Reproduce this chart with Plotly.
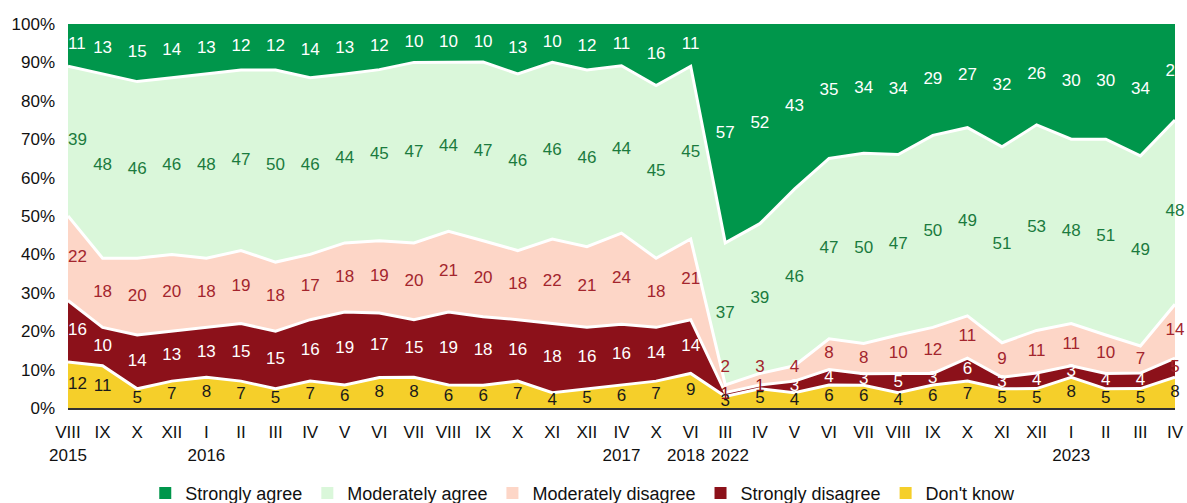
import plotly.graph_objects as go

months = ["VIII", "IX", "X", "XII", "I", "II", "III", "IV", "V", "VI", "VII", "VIII", "IX", "X",
          "XI", "XII", "IV", "X", "VI", "III", "IV", "V", "VI", "VII", "VIII", "IX", "X", "XI",
          "XII", "I", "II", "III", "IV"]
years = ["2015", "", "", "", "2016", "", "", "", "", "", "", "", "", "", "", "", "2017", "", "2018",
         "2022", "", "", "", "", "", "", "", "", "", "2023", "", "", ""]

dont_know = [12, 11, 5, 7, 8, 7, 5, 7, 6, 8, 8, 6, 6, 7, 4, 5, 6, 7, 9, 3, 5, 4, 6, 6, 4, 6, 7, 5, 5, 8, 5, 5, 8]
strongly_disagree = [16, 10, 14, 13, 13, 15, 15, 16, 19, 17, 15, 19, 18, 16, 18, 16, 16, 14, 14, 1, 1, 3, 4, 3, 5, 3, 6, 3, 4, 3, 4, 4, 5]
moderately_disagree = [22, 18, 20, 20, 18, 19, 18, 17, 18, 19, 20, 21, 20, 18, 22, 21, 24, 18, 21, 2, 3, 4, 8, 8, 10, 12, 11, 9, 11, 11, 10, 7, 14]
moderately_agree = [39, 48, 46, 46, 48, 47, 50, 46, 44, 45, 47, 44, 47, 46, 46, 46, 44, 45, 45, 37, 39, 46, 47, 50, 47, 50, 49, 51, 53, 48, 51, 49, 48]
strongly_agree = [11, 13, 15, 14, 13, 12, 12, 14, 13, 12, 10, 10, 10, 13, 10, 12, 11, 16, 11, 57, 52, 43, 35, 34, 34, 29, 27, 32, 26, 30, 30, 34, 25]
y_ticks = [0, 10, 20, 30, 40, 50, 60, 70, 80, 90, 100]

series = [
    ("Don't know", dont_know, "#F5CF2A", "#1a1a1a"),
    ("Strongly disagree", strongly_disagree, "#8C111A", "#ffffff"),
    ("Moderately disagree", moderately_disagree, "#FDD6C7", "#A3252D"),
    ("Moderately agree", moderately_agree, "#DAF7DA", "#1B7B3E"),
    ("Strongly agree", strongly_agree, "#00964B", "#ffffff"),
]

x = list(range(len(months)))
NB = "\u00a0"


def year_label(y):
    if not y:
        return " "
    if y == "2018":
        return y + NB * 2
    if y == "2022":
        return NB * 2 + y
    return y


ticktext = [m + "<br>" + year_label(y) for m, y in zip(months, years)]

totals = [sum(col) for col in zip(*[s[1] for s in series])]
text_pos = ["middle right"] + ["middle center"] * (len(x) - 1)

fig = go.Figure()
base = [0] * len(x)
font = "Liberation Sans, Arial, sans-serif"
for i, (name, vals, color, tcolor) in enumerate(series):
    fig.add_trace(go.Scatter(
        x=x, y=vals, stackgroup="one", groupnorm="percent" if i == 0 else None,
        mode="lines", name=name,
        line=dict(color=("#00964B" if name == "Strongly agree" else "white"), width=3),
        fillcolor=color, showlegend=False, hoverinfo="skip"))
    norm = [v * 100 / t for v, t in zip(vals, totals)]
    mids = [b + v / 2 for b, v in zip(base, norm)]
    colors = [tcolor] * len(vals)
    if name == "Strongly disagree":
        colors = ["#8C111A" if v <= 1 else tcolor for v in vals]
        colors[-1] = "#A3252D"
    if name == "Moderately disagree":
        mids = [max(m, 10.5) if v <= 4 else m for m, v in zip(mids, vals)]
    fig.add_trace(go.Scatter(
        x=x, y=mids, mode="text", text=[str(v) for v in vals],
        textposition=text_pos,
        textfont=dict(color=colors, size=17, family=font),
        showlegend=False, hoverinfo="skip", cliponaxis=False))
    base = [b + v for b, v in zip(base, norm)]

for name, vals, color, tcolor in reversed(series):
    fig.add_trace(go.Scatter(
        x=[None], y=[None], mode="markers", name=name,
        marker=dict(symbol="square", size=12, color=color)))

fig.update_layout(
    width=1187, height=503,
    margin=dict(l=68, r=12, t=24, b=95, autoexpand=False),
    plot_bgcolor="white", paper_bgcolor="white",
    font=dict(family=font, size=17, color="#111111"),
    legend=dict(orientation="h", x=0.465, xanchor="center", y=-0.222, yanchor="middle",
                traceorder="normal", font=dict(size=18, color="#111111"),
                itemwidth=30, tracegroupgap=0),
    xaxis=dict(range=[0, len(x) - 1], tickvals=x, ticktext=ticktext, showgrid=False,
               zeroline=False, showline=True, linecolor="#333333", linewidth=2,
               ticks="", tickangle=0, automargin=False, ticklabelstandoff=8,
               tickfont=dict(size=17, color="#111111")),
    yaxis=dict(range=[0, 100], tickvals=y_ticks, ticktext=[f"{t}%" for t in y_ticks],
               showgrid=False, zeroline=False, showline=False, ticks="",
               automargin=False, ticklabelstandoff=12,
               tickfont=dict(size=17, color="#111111")),
)

fig.write_html("out.html", config={"displayModeBar": False},
               post_script="document.body.style.margin='0';document.body.style.overflow='hidden';")
